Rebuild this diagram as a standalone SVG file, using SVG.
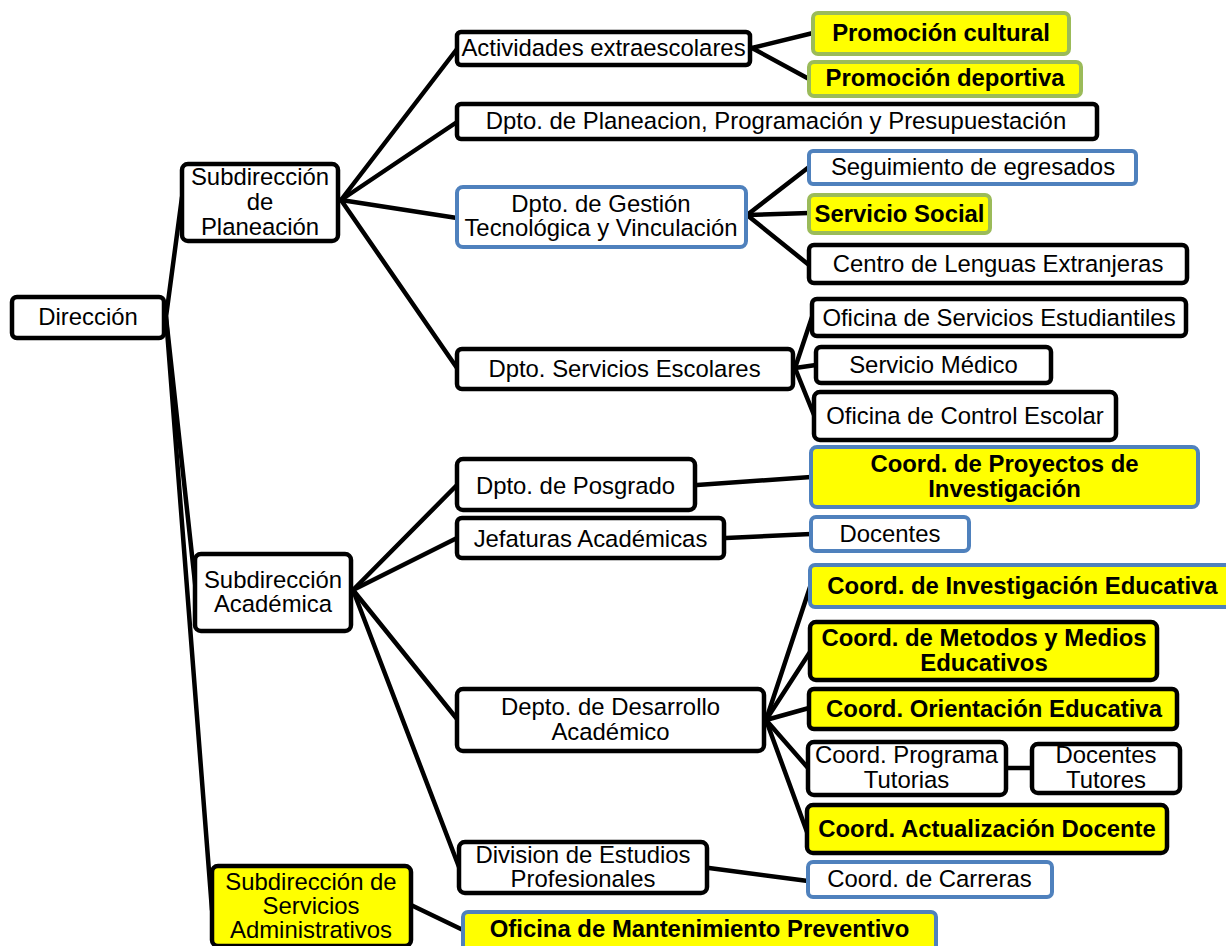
<svg xmlns="http://www.w3.org/2000/svg" width="1226" height="946" viewBox="0 0 1226 946">
<style>
.b{fill:#fff;stroke:#000;stroke-width:4.5}
.bl{fill:#fff;stroke:#4F81BD;stroke-width:4}
.gy{fill:#FFFF00;stroke:#9BBB59;stroke-width:4}
.by{fill:#FFFF00;stroke:#4F81BD;stroke-width:4}
.ky{fill:#FFFF00;stroke:#000;stroke-width:4.5}
text{font-family:"Liberation Sans",Arial,sans-serif;font-size:23.9px;fill:#000;text-anchor:middle}
.bd{font-weight:bold;font-size:23.9px}
#c line{stroke:#000;stroke-width:4.5;stroke-linecap:round}
</style>
<rect width="1226" height="946" fill="#fff"/>
<g id="c">
<line x1="166" y1="317" x2="182" y2="197"/>
<line x1="166" y1="317" x2="196" y2="592"/>
<line x1="166" y1="317" x2="212" y2="910"/>
<line x1="341" y1="200" x2="457" y2="49"/>
<line x1="341" y1="200" x2="457" y2="122"/>
<line x1="341" y1="200" x2="457" y2="218"/>
<line x1="341" y1="200" x2="457" y2="368"/>
<line x1="752" y1="48" x2="813" y2="33"/>
<line x1="752" y1="48" x2="809" y2="79"/>
<line x1="747" y1="215" x2="809" y2="167"/>
<line x1="747" y1="215" x2="809" y2="213"/>
<line x1="747" y1="215" x2="809" y2="265"/>
<line x1="795" y1="368" x2="812" y2="317"/>
<line x1="795" y1="368" x2="816" y2="365"/>
<line x1="795" y1="368" x2="814" y2="415"/>
<line x1="353" y1="590" x2="457" y2="485"/>
<line x1="353" y1="590" x2="457" y2="538"/>
<line x1="353" y1="590" x2="457" y2="719"/>
<line x1="353" y1="590" x2="459" y2="867"/>
<line x1="697" y1="485" x2="811" y2="477"/>
<line x1="726" y1="538" x2="811" y2="534"/>
<line x1="766" y1="720" x2="810" y2="587"/>
<line x1="766" y1="720" x2="810" y2="652"/>
<line x1="766" y1="720" x2="809" y2="708"/>
<line x1="766" y1="720" x2="808" y2="768"/>
<line x1="766" y1="720" x2="807" y2="832"/>
<line x1="1006" y1="768" x2="1032" y2="768"/>
<line x1="709" y1="868" x2="808" y2="881"/>
<line x1="411" y1="905" x2="463" y2="930"/>
</g>
<g id="direccion"><rect class="b" x="12" y="297" width="152" height="41" rx="5"/><text x="88" y="325">Dirección</text></g>
<g id="subd-planeacion"><rect class="b" x="182" y="164" width="156" height="77" rx="6"/><text x="260" y="185">Subdirección</text><text x="260" y="210">de</text><text x="260" y="235">Planeación</text></g>
<g id="subd-academica"><rect class="b" x="195" y="554" width="156" height="77" rx="6"/><text x="273" y="588">Subdirección</text><text x="273" y="612">Académica</text></g>
<g id="subd-servicios"><rect class="ky" x="212" y="866" width="199" height="80" rx="6"/><text x="311" y="890">Subdirección de</text><text x="311" y="914">Servicios</text><text x="311" y="938">Administrativos</text></g>
<g id="actividades"><rect class="b" x="457" y="32" width="293" height="33" rx="4"/><text x="603.5" y="56">Actividades extraescolares</text></g>
<g id="dpto-planeacion"><rect class="b" x="457" y="104" width="640" height="35" rx="4"/><text x="776" y="129">Dpto. de Planeacion, Programación y Presupuestación</text></g>
<g id="dpto-gestion"><rect class="bl" x="457" y="187" width="289" height="60" rx="6"/><text x="601" y="212">Dpto. de Gestión</text><text x="601" y="236">Tecnológica y Vinculación</text></g>
<g id="dpto-serv-escolares"><rect class="b" x="457" y="349" width="336" height="40" rx="5"/><text x="624.5" y="377">Dpto. Servicios Escolares</text></g>
<g id="promo-cultural"><rect class="gy" x="813" y="13" width="256" height="41" rx="5"/><text class="bd" x="941" y="41">Promoción cultural</text></g>
<g id="promo-deportiva"><rect class="gy" x="809" y="62" width="272" height="34" rx="5"/><text class="bd" x="945" y="86">Promoción deportiva</text></g>
<g id="seguimiento"><rect class="bl" x="809" y="151" width="327" height="33" rx="4"/><text x="973" y="175">Seguimiento de egresados</text></g>
<g id="servicio-social"><rect class="gy" x="809" y="195" width="181" height="38" rx="5"/><text class="bd" x="899.5" y="222">Servicio Social</text></g>
<g id="centro-lenguas"><rect class="b" x="809" y="245" width="378" height="38" rx="5"/><text x="998" y="272">Centro de Lenguas Extranjeras</text></g>
<g id="ofi-serv-estudiantiles"><rect class="b" x="812" y="299" width="374" height="37" rx="5"/><text x="999" y="326">Oficina de Servicios Estudiantiles</text></g>
<g id="servicio-medico"><rect class="b" x="816" y="347" width="235" height="36" rx="5"/><text x="933.5" y="373">Servicio Médico</text></g>
<g id="control-escolar"><rect class="b" x="814" y="392" width="302" height="48" rx="6"/><text x="965" y="424">Oficina de Control Escolar</text></g>
<g id="dpto-posgrado"><rect class="b" x="457" y="459" width="238" height="51" rx="6"/><text x="575.5" y="494">Dpto. de Posgrado</text></g>
<g id="jefaturas"><rect class="b" x="457" y="518" width="267" height="40" rx="5"/><text x="590.5" y="547">Jefaturas Académicas</text></g>
<g id="coord-proyectos"><rect class="by" x="811" y="447" width="387" height="60" rx="6"/><text class="bd" x="1004.5" y="472">Coord. de Proyectos de</text><text class="bd" x="1004.5" y="497">Investigación</text></g>
<g id="docentes"><rect class="bl" x="811" y="517" width="158" height="34" rx="5"/><text x="890" y="542">Docentes</text></g>
<g id="depto-desarrollo"><rect class="b" x="457" y="689" width="307" height="62" rx="6"/><text x="610.5" y="715">Depto. de Desarrollo</text><text x="610.5" y="740">Académico</text></g>
<g id="division"><rect class="b" x="459" y="842" width="248" height="51" rx="6"/><text x="583" y="863">Division de Estudios</text><text x="583" y="887">Profesionales</text></g>
<g id="coord-inv-edu"><rect class="by" x="810" y="565" width="430" height="42" rx="5"/><text class="bd" x="1022.5" y="594">Coord. de Investigación Educativa</text></g>
<g id="coord-metodos"><rect class="ky" x="810" y="622" width="347" height="58" rx="6"/><text class="bd" x="984" y="646">Coord. de Metodos y Medios</text><text class="bd" x="984" y="671">Educativos</text></g>
<g id="coord-orientacion"><rect class="ky" x="809" y="689" width="368" height="40" rx="5"/><text class="bd" x="994" y="717">Coord. Orientación Educativa</text></g>
<g id="coord-tutorias"><rect class="b" x="808" y="742" width="198" height="53" rx="6"/><text x="906.5" y="763">Coord. Programa</text><text x="906.5" y="788">Tutorias</text></g>
<g id="docentes-tutores"><rect class="b" x="1032" y="744" width="148" height="49" rx="6"/><text x="1106" y="763">Docentes</text><text x="1106" y="788">Tutores</text></g>
<g id="coord-actualizacion"><rect class="ky" x="807" y="805" width="360" height="48" rx="6"/><text class="bd" x="987" y="837">Coord. Actualización Docente</text></g>
<g id="coord-carreras"><rect class="bl" x="808" y="862" width="244" height="35" rx="5"/><text x="929.5" y="887">Coord. de Carreras</text></g>
<g id="ofi-mantenimiento"><rect class="by" x="463" y="912" width="473" height="40" rx="5"/><text class="bd" x="699.5" y="937">Oficina de Mantenimiento Preventivo</text></g>
</svg>
